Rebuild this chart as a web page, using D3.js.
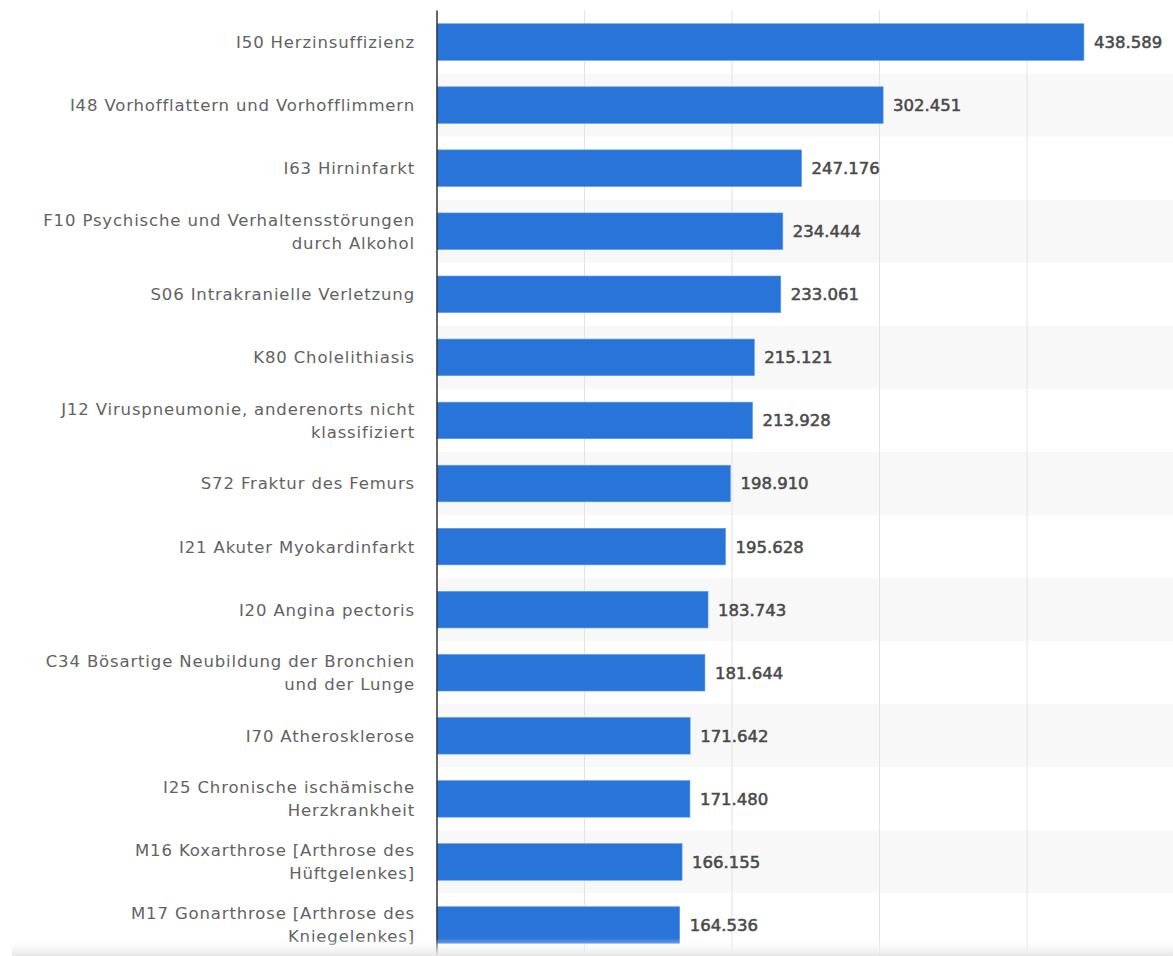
<!DOCTYPE html>
<html>
<head>
<meta charset="utf-8">
<script src="https://cdn.jsdelivr.net/npm/d3@7"></script>
<style>
  body { margin: 0; background: #fff; }
  svg { display: block; }
</style>
</head>
<body>
<div id="chart"></div>
<script>
// diagnoses (line breaks as in the original)
var categories = [
  "I50 Herzinsuffizienz",
  "I48 Vorhofflattern und Vorhofflimmern",
  "I63 Hirninfarkt",
  "F10 Psychische und Verhaltensstörungen|durch Alkohol",
  "S06 Intrakranielle Verletzung",
  "K80 Cholelithiasis",
  "J12 Viruspneumonie, anderenorts nicht|klassifiziert",
  "S72 Fraktur des Femurs",
  "I21 Akuter Myokardinfarkt",
  "I20 Angina pectoris",
  "C34 Bösartige Neubildung der Bronchien|und der Lunge",
  "I70 Atherosklerose",
  "I25 Chronische ischämische|Herzkrankheit",
  "M16 Koxarthrose [Arthrose des|Hüftgelenkes]",
  "M17 Gonarthrose [Arthrose des|Kniegelenkes]"
];
var values = [438589, 302451, 247176, 234444, 233061, 215121, 213928, 198910, 195628, 183743, 181644, 171642, 171480, 166155, 164536];
var xTicks = [100000, 200000, 300000, 400000];

!function(){
  var W = 1173, H = 956;
  var axisX = 437, topY = 10.5;

  var de = d3.formatLocale({decimal: ",", thousands: ".", grouping: [3], currency: ["", " €"]});
  var fmt = de.format(",d");

  var svg = d3.select("#chart").append("svg")
    .attr("width", W).attr("height", H);

  var x = d3.scaleLinear().domain([0, 500000]).range([axisX, axisX + 737.5]);
  var y = d3.scaleBand().domain(d3.range(categories.length))
    .range([topY, topY + 63.07 * categories.length])
    .paddingInner(0.42).paddingOuter(0.21);
  var step = y.step();

  // alternating row stripes
  svg.append("g").selectAll("rect")
    .data(categories)
    .join("rect")
    .attr("x", axisX)
    .attr("y", function(d, i) { return topY + i * step; })
    .attr("width", W - axisX)
    .attr("height", step)
    .attr("fill", function(d, i) { return i % 2 ? "#f8f8f8" : "#fff"; });

  // grid
  svg.append("g").selectAll("line")
    .data(xTicks)
    .join("line")
    .attr("x1", function(d) { return x(d); })
    .attr("x2", function(d) { return x(d); })
    .attr("y1", topY).attr("y2", H)
    .attr("stroke", "#e3e3e3").attr("stroke-width", 1);

  // bars
  svg.append("g").selectAll("rect")
    .data(values)
    .join("rect")
    .attr("x", x(0))
    .attr("y", function(d, i) { return y(i); })
    .attr("width", function(d) { return x(d) - x(0); })
    .attr("height", y.bandwidth())
    .attr("fill", "#2874d9")
    .attr("stroke", "#5d9ae8").attr("stroke-width", 0.6);

  // value labels
  svg.append("g").selectAll("text")
    .data(values)
    .join("text")
    .attr("x", function(d) { return x(d) + 10; })
    .attr("y", function(d, i) { return y(i) + y.bandwidth() / 2; })
    .attr("dy", "0.36em")
    .attr("font-family", "DejaVu Sans, sans-serif")
    .attr("font-size", "16.5px")
    .attr("fill", "#4a4a4a")
    .attr("stroke", "#4a4a4a").attr("stroke-width", 0.55)
    .text(function(d) { return fmt(d); });

  // category labels
  var lab = svg.append("g").selectAll("text")
    .data(categories)
    .join("text")
    .attr("text-anchor", "end")
    .attr("font-family", "DejaVu Sans, sans-serif")
    .attr("font-size", "16.5px")
    .attr("letter-spacing", "0.85px")
    .attr("fill", "#626262")
    .attr("transform", function(d, i) {
      return "translate(415," + (y(i) + y.bandwidth() / 2) + ")";
    });
  lab.each(function(d) {
    var lines = d.split("|");
    var t = d3.select(this);
    lines.forEach(function(l, k) {
      t.append("tspan").attr("x", 0)
        .attr("y", (k - (lines.length - 1) / 2) * 23)
        .attr("dy", "0.36em")
        .text(l);
    });
  });

  // axis line
  svg.append("line")
    .attr("x1", axisX).attr("x2", axisX)
    .attr("y1", topY).attr("y2", H)
    .attr("stroke", "#333").attr("stroke-width", 1.5);

  // bottom fade
  var grad = svg.append("defs").append("linearGradient")
    .attr("id", "fade").attr("x1", 0).attr("x2", 0).attr("y1", 0).attr("y2", 1);
  grad.append("stop").attr("offset", "0%").attr("stop-color", "#fff").attr("stop-opacity", 0);
  grad.append("stop").attr("offset", "100%").attr("stop-color", "#e6e6e6").attr("stop-opacity", 1);
  svg.append("rect")
    .attr("x", 12).attr("y", 938).attr("width", W - 12).attr("height", H - 938)
    .attr("fill", "url(#fade)");
}();
</script>
</body>
</html>
